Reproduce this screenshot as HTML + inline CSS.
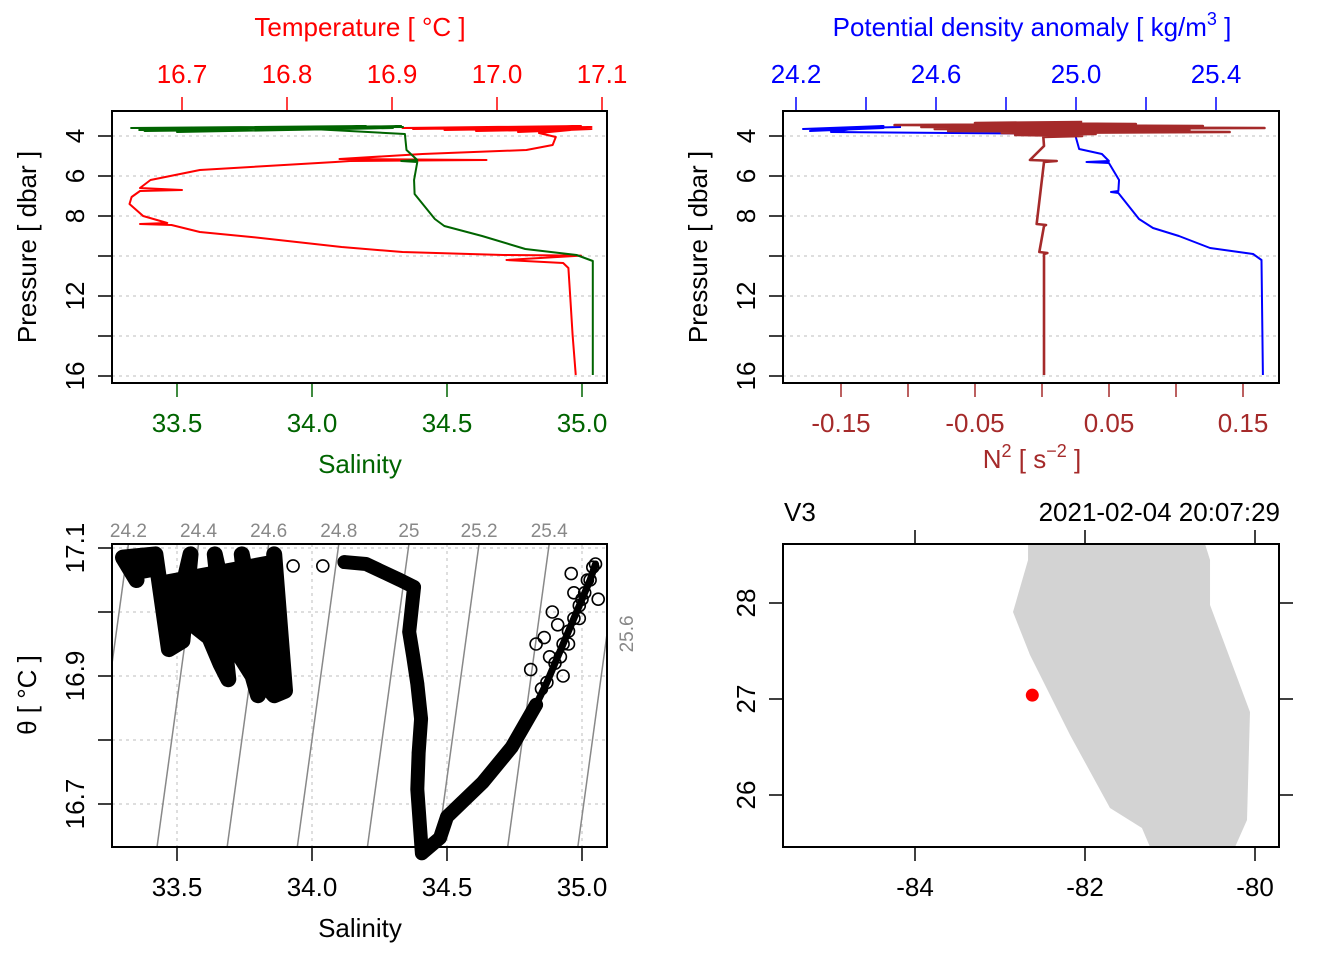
<!DOCTYPE html>
<html><head><meta charset="utf-8">
<style>
html,body{margin:0;padding:0;background:#fff;}
svg{display:block;font-family:"Liberation Sans",sans-serif;}
</style></head>
<body>
<svg id="root" width="1344" height="960" viewBox="0 0 1344 960"></svg>
<script>
// ---------- data ----------
const tP=[3.55,3.6,3.5,3.65,3.55,3.7,3.6,3.75,3.65,3.8,3.7,3.85,4.05,4.45,4.7,4.9,5.15,5.2,5.25,5.3,5.7,6.2,6.6,6.7,6.75,7.05,7.4,8.0,8.35,8.4,8.45,8.8,9.05,9.55,9.8,9.95,9.98,10.2,10.35,10.6,12.25,13.95,15.95];
const tV=[17.09,16.91,17.08,16.92,17.09,16.95,17.08,16.98,17.09,17.02,17.07,17.04,17.056,17.053,17.028,16.929,16.85,16.99,16.86,16.846,16.717,16.67,16.66,16.70,16.66,16.652,16.65,16.663,16.686,16.66,16.69,16.717,16.766,16.852,16.91,17.006,17.08,17.009,17.063,17.068,17.07,17.072,17.075];
const sP=[3.55,3.6,3.5,3.7,3.55,3.75,3.6,3.8,3.55,3.7,3.5,3.65,3.9,4.7,5.2,5.25,5.3,6.2,6.9,8.15,8.5,9.0,9.65,9.95,10.25,15.95];
const sV=[34.34,33.33,34.2,33.36,33.9,33.38,34.3,33.5,34.1,33.4,34.33,34.0,34.344,34.35,34.39,34.33,34.39,34.378,34.38,34.455,34.49,34.63,34.79,34.98,35.04,35.04];
const dP=[3.55,3.65,3.5,3.75,3.6,3.7,3.55,3.8,3.9,4.65,4.9,5.25,5.3,5.35,6.2,6.75,6.8,6.85,8.15,8.6,9.0,9.6,9.9,10.2,15.95];
const dV=[24.5,24.22,24.45,24.24,24.45,24.25,24.4,24.3,24.997,25.009,25.074,25.094,25.03,25.094,25.123,25.121,25.10,25.121,25.18,25.22,25.294,25.383,25.506,25.53,25.534];
const nP=[3.3,3.35,3.4,3.45,3.5,3.55,3.6,3.65,3.7,3.75,3.8,3.85,3.9,3.95,4.0,4.05,4.5,5.2,5.25,5.3,8.4,8.45,8.5,9.8,9.85,9.9,15.95];
const nV=[0.03,-0.05,0.07,-0.11,0.12,-0.09,0.166,-0.08,0.11,-0.07,0.14,-0.03,0.04,-0.02,0.03,0.001,0.0015,-0.009,0.011,0.0015,-0.004,0.003,0.0015,-0.002,0.004,0.0015,0.0015];
const ts1S=[33.35,33.30,33.42,33.47,33.52,33.55,33.5,33.62,33.66,33.69,33.64,33.72,33.78,33.80,33.74,33.84,33.86,33.90,33.86];
const ts1T=[17.05,17.085,17.09,16.942,16.955,17.09,17.0,16.96,16.92,16.895,17.09,16.94,16.90,16.87,17.09,16.88,16.87,16.877,17.09];
const ts0S=[33.93,34.04];
const ts0T=[17.072,17.072];
const ts2S=[34.12,34.2,34.326,34.378,34.36,34.375,34.39,34.404,34.395,34.39,34.407,34.474,34.50,34.633,34.74,34.83];
const ts2T=[17.078,17.075,17.05,17.039,16.969,16.93,16.888,16.833,16.78,16.723,16.623,16.647,16.68,16.734,16.789,16.855];
const ts3S=[34.83,34.87,34.90,34.93,34.95,34.97,34.99,35.01,35.03,35.05];
const ts3T=[16.855,16.89,16.92,16.95,16.97,16.99,17.01,17.03,17.05,17.075];
const ts4S=[34.85,34.88,34.86,34.91,34.93,34.89,34.95,34.97,34.99,34.96,35.0,35.02,35.04,34.83,34.81,35.06,34.92];
const ts4T=[16.88,16.93,16.96,16.98,16.9,17.0,16.95,17.03,16.99,17.06,17.02,17.05,17.07,16.95,16.91,17.02,16.93];
const isoLevels=[24.2,24.4,24.6,24.8,25,25.2,25.4,25.6];
const pTicks=[4,6,8,10,12,14,16];
const pLabels=["4","6","8","","12","","16"];
const tTicks=[16.7,16.8,16.9,17.0,17.1];
const sTicks=[33.5,34.0,34.5,35.0];
const dTicks=[24.2,24.4,24.6,24.8,25.0,25.2,25.4];
const dLabels=["24.2","","24.6","","25.0","","25.4"];
const nTicks=[-0.15,-0.1,-0.05,0,0.05,0.1,0.15];
const nLabels=["-0.15","","-0.05","","0.05","","0.15"];
const thTicks=[16.7,16.8,16.9,17.0,17.1];
const thLabels=["16.7","","16.9","","17.1"];
const lonTicks=[-84,-82,-80];
const latTicks=[26,27,28];
const landLon=[-82.67,-80.588,-80.529,-80.529,-80.059,-80.094,-80.235,-81.235,-81.33,-81.706,-82.176,-82.647,-82.847,-82.67];
const landLat=[28.615,28.615,28.448,27.979,26.865,25.74,25.458,25.458,25.656,25.865,26.625,27.458,27.906,28.448];
const stnLon=[-82.62];
const stnLat=[27.04];

// ---------- scales ----------
const yP=p=>136+(p-4)*20;
const xT=t=>182+(t-16.7)*1050;
const xS=s=>177+(s-33.5)*270;
const xD=d=>796+(d-24.2)*350;
const xN=n=>1042+n*1340;
const yTh=t=>548+(17.1-t)*640;
const xLon=l=>915+(l+84)*85;
const yLat=l=>699-(l-27)*96;
const FS=26, TS=26;

const NS="http://www.w3.org/2000/svg";
const root=document.getElementById('root');
function mk(tag,attrs,parent){const e=document.createElementNS(NS,tag);for(const k in attrs)e.setAttribute(k,attrs[k]);(parent||root).appendChild(e);return e;}
function txt(x,y,s,size,fill,anchor,rot,parent){const a={x:x,y:y,'font-size':size,fill:fill,'text-anchor':anchor||'middle'};if(rot)a.transform='rotate(-90 '+x+' '+y+')';const e=mk('text',a,parent);e.textContent=s;return e;}

const defs=mk('defs',{});
const cp3=mk('clipPath',{id:'c3'},defs);
mk('rect',{x:112,y:544,width:495,height:303},cp3);
const cp4=mk('clipPath',{id:'c4'},defs);
mk('rect',{x:783,y:544,width:496,height:303},cp4);

// ---------- panel 1 ----------
const g1=mk('g',{});


pTicks.forEach((p,i)=>{
  const l=mk('line',{x1:112,x2:607,y1:yP(p),y2:yP(p),stroke:'#d3d3d3','stroke-width':1.5,'stroke-dasharray':'3 4'},g1);
  
  
  mk('line',{x1:98,x2:112,y1:yP(p),y2:yP(p),stroke:'#000','stroke-width':1.5},g1);
  if(pLabels[i]){const t=txt(84,yP(p),pLabels[i],FS,'#000','middle',true,g1);
  
  }
});
tTicks.forEach(t=>{
  mk('line',{x1:xT(t),x2:xT(t),y1:97,y2:111,stroke:'#f00','stroke-width':1.5},g1);
  const e=txt(xT(t),83,t.toFixed(1),FS,'#f00','middle',false,g1);
  
  
});
sTicks.forEach(s=>{
  mk('line',{x1:xS(s),x2:xS(s),y1:383,y2:397,stroke:'#006400','stroke-width':1.5},g1);
  const e=txt(xS(s),432,s.toFixed(1),FS,'#006400','middle',false,g1);
  
  
});
{
const tl=mk('polyline',{points:tP.map((p,i)=>xT(tV[i])+','+yP(p)).join(' '),fill:'none',stroke:'#f00','stroke-width':2,'stroke-linejoin':'round'},g1);


const sl=mk('polyline',{points:sP.map((p,i)=>xS(sV[i])+','+yP(p)).join(' '),fill:'none',stroke:'#006400','stroke-width':2,'stroke-linejoin':'round'},g1);


const b=mk('rect',{x:112,y:111,width:495,height:272,fill:'none',stroke:'#000','stroke-width':2},g1);


let e=txt(360,36,'Temperature [ °C ]',TS,'#f00','middle',false,g1);


e=txt(360,473,'Salinity',TS,'#006400','middle',false,g1);


e=txt(36,247,'Pressure [ dbar ]',TS,'#000','middle',true,g1);


}

// ---------- panel 2 ----------
const g2=mk('g',{});


pTicks.forEach((p,i)=>{
  const l=mk('line',{x1:783,x2:1279,y1:yP(p),y2:yP(p),stroke:'#d3d3d3','stroke-width':1.5,'stroke-dasharray':'3 4'},g2);
  
  
  mk('line',{x1:769,x2:783,y1:yP(p),y2:yP(p),stroke:'#000','stroke-width':1.5},g2);
  if(pLabels[i]){const t=txt(755,yP(p),pLabels[i],FS,'#000','middle',true,g2);
  
  }
});
dTicks.forEach((d,i)=>{
  mk('line',{x1:xD(d),x2:xD(d),y1:97,y2:111,stroke:'#00f','stroke-width':1.5},g2);
  if(dLabels[i]){const e=txt(xD(d),83,dLabels[i],FS,'#00f','middle',false,g2);
  
  }
});
nTicks.forEach((n,i)=>{
  mk('line',{x1:xN(n),x2:xN(n),y1:383,y2:397,stroke:'#a52a2a','stroke-width':1.5},g2);
  if(nLabels[i]){const e=txt(xN(n),432,nLabels[i],FS,'#a52a2a','middle',false,g2);
  
  }
});
{
const dl=mk('polyline',{points:dP.map((p,i)=>xD(dV[i])+','+yP(p)).join(' '),fill:'none',stroke:'#00f','stroke-width':2,'stroke-linejoin':'round'},g2);


const nl=mk('polyline',{points:nP.map((p,i)=>xN(nV[i])+','+yP(p)).join(' '),fill:'none',stroke:'#a52a2a','stroke-width':2.6,'stroke-linejoin':'round'},g2);


const b=mk('rect',{x:783,y:111,width:496,height:272,fill:'none',stroke:'#000','stroke-width':2},g2);


let e=mk('text',{x:1032,y:36,'font-size':TS,fill:'#00f','text-anchor':'middle'},g2);
e.innerHTML='Potential density anomaly [ kg/m<tspan dy="-11" font-size="18">3</tspan><tspan dy="11"> ]</tspan>';


e=mk('text',{x:1032,y:468,'font-size':TS,fill:'#a52a2a','text-anchor':'middle'},g2);
e.innerHTML='N<tspan dy="-11" font-size="18">2</tspan><tspan dy="11"> [ s</tspan><tspan dy="-11" font-size="18">−2</tspan><tspan dy="11"> ]</tspan>';


e=txt(707,247,'Pressure [ dbar ]',TS,'#000','middle',true,g2);


}

// ---------- panel 3: TS ----------
const g3=mk('g',{});


sTicks.forEach(s=>{
  const l=mk('line',{x1:xS(s),x2:xS(s),y1:544,y2:847,stroke:'#d3d3d3','stroke-width':1.5,'stroke-dasharray':'3 4'},g3);
  
  
  mk('line',{x1:xS(s),x2:xS(s),y1:847,y2:861,stroke:'#000','stroke-width':1.5},g3);
  const e=txt(xS(s),896,s.toFixed(1),FS,'#000','middle',false,g3);
  
  
});
thTicks.forEach((t,i)=>{
  const l=mk('line',{x1:112,x2:607,y1:yTh(t),y2:yTh(t),stroke:'#d3d3d3','stroke-width':1.5,'stroke-dasharray':'3 4'},g3);
  
  
  mk('line',{x1:98,x2:112,y1:yTh(t),y2:yTh(t),stroke:'#000','stroke-width':1.5},g3);
  if(thLabels[i]){const e=txt(84,yTh(t),thLabels[i],FS,'#000','middle',true,g3);
  
  }
});
const sOf=(sig,th)=>33.318+(sig-24.2+0.25*(th-17.1))/0.77;
const thAtS=(sig,s)=>17.1+(0.77*(s-33.318)-(sig-24.2))/0.25;
const xSinv=x=>33.5+(x-177)/270;
const thTop=17.1-(544-548)/640, thBot=17.1-(847-548)/640;
isoLevels.forEach(sig=>{
  const l=mk('line',{x1:xS(sOf(sig,thTop)),y1:544,x2:xS(sOf(sig,thBot)),y2:847,stroke:'#888','stroke-width':1.5,'clip-path':'url(#c3)'},g3);
  
  
  const xt=xS(sOf(sig,thTop));
  let e;
  if(xt<=607){e=txt(xt,537,String(sig),19,'#888','middle',false,g3);}
  else{const yy=yTh(thAtS(sig,xSinv(607)));e=txt(633,Math.max(600,Math.min(800,yy)),String(sig),19,'#888','middle',true,g3);}
  
  
});
function tsGroup(S,T,thick,filled,name){
  if(thick){const p=mk('polyline',{points:S.map((s,i)=>xS(s)+','+yTh(T[i])).join(' '),fill:filled?'#000':'none',stroke:'#000','stroke-width':thick,'stroke-linejoin':'round','stroke-linecap':'round'},g3);
  
  }
  S.forEach((s,i)=>{const c=mk('circle',{cx:xS(s),cy:yTh(T[i]),r:6,fill:'none',stroke:'#000','stroke-width':1.6},g3);
  
  });
}
tsGroup(ts1S,ts1T,16,true,'surface-cluster');
tsGroup(ts0S,ts0T,0,false,'isolated');
tsGroup(ts2S,ts2T,14,false,'main-branch');
tsGroup(ts3S,ts3T,7,false,'upper-branch');
tsGroup(ts4S,ts4T,0,false,'upper-scatter');
{
const b=mk('rect',{x:112,y:544,width:495,height:303,fill:'none',stroke:'#000','stroke-width':2},g3);


let e=txt(360,937,'Salinity',TS,'#000','middle',false,g3);


e=txt(36,695,'θ [ °C ]',TS,'#000','middle',true,g3);


}

// ---------- panel 4: map ----------
const g4=mk('g',{});


{
const land=mk('polygon',{points:landLon.map((l,i)=>xLon(l)+','+yLat(landLat[i])).join(' '),fill:'#d3d3d3',stroke:'none','clip-path':'url(#c4)'},g4);


const st=mk('circle',{cx:xLon(stnLon[0]),cy:yLat(stnLat[0]),r:6.5,fill:'#f00'},g4);


lonTicks.forEach(l=>{
  mk('line',{x1:xLon(l),x2:xLon(l),y1:530,y2:544,stroke:'#000','stroke-width':1.5},g4);
  mk('line',{x1:xLon(l),x2:xLon(l),y1:847,y2:861,stroke:'#000','stroke-width':1.5},g4);
  const e=txt(xLon(l),896,String(l),FS,'#000','middle',false,g4);
  
  
});
latTicks.forEach(l=>{
  mk('line',{x1:769,x2:783,y1:yLat(l),y2:yLat(l),stroke:'#000','stroke-width':1.5},g4);
  mk('line',{x1:1279,x2:1293,y1:yLat(l),y2:yLat(l),stroke:'#000','stroke-width':1.5},g4);
  const e=txt(755,yLat(l),String(l),FS,'#000','middle',true,g4);
  
  
});
const b=mk('rect',{x:783,y:544,width:496,height:303,fill:'none',stroke:'#000','stroke-width':2},g4);


let e=txt(784,521,'V3',TS,'#000','start',false,g4);


e=txt(1280,521,'2021-02-04 20:07:29',TS,'#000','end',false,g4);


}
</script>
</body></html>
